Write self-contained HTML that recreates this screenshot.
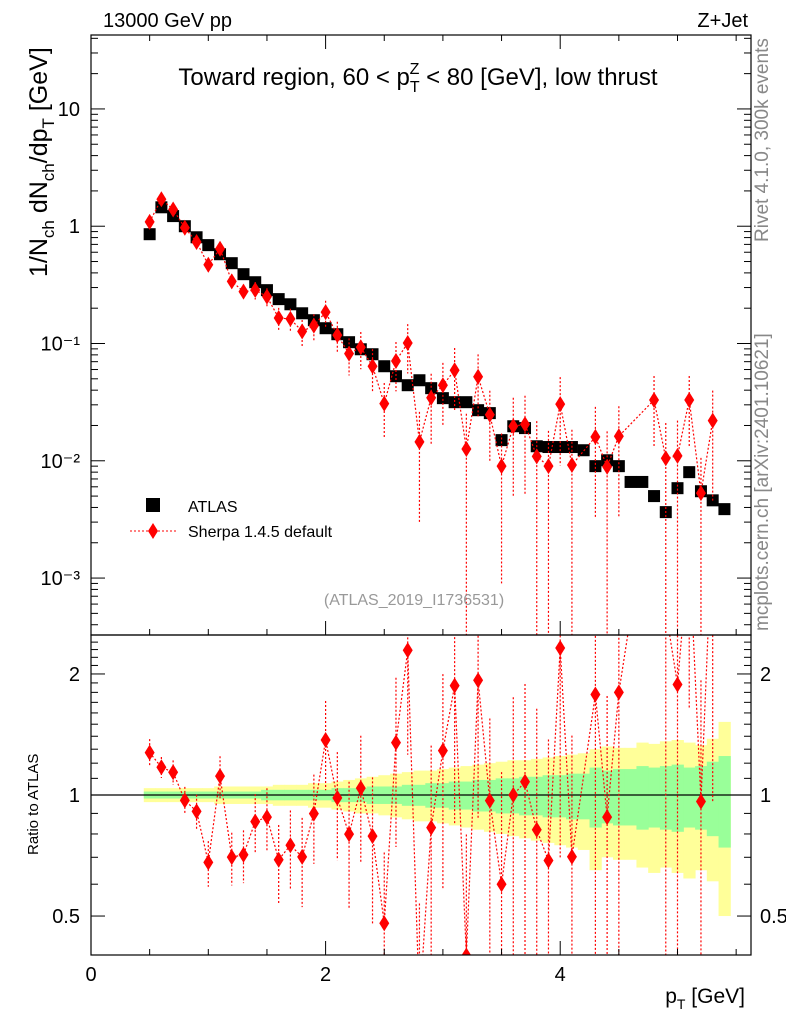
<!DOCTYPE html>
<html><head><meta charset="utf-8"><style>
html,body{margin:0;background:#fff;overflow:hidden;width:786px;height:1024px}
svg{display:block}
svg text{font-family:"Liberation Sans",sans-serif}
</style></head><body>
<svg id="c" width="786" height="1024" xmlns="http://www.w3.org/2000/svg">
<defs><clipPath id="cm"><rect x="91" y="35" width="660" height="600"/></clipPath><clipPath id="cr"><rect x="91" y="635" width="660" height="320"/></clipPath></defs>
<g id="bands" clip-path="url(#cr)"></g>
<g id="marks"></g>
<text x="103" y="27" font-size="20">13000 GeV pp</text>
<text x="748" y="27" font-size="20" text-anchor="end">Z+Jet</text>
<text x="418" y="85" font-size="24" text-anchor="middle">Toward region, 60 &lt; p<tspan font-size="16" dy="7">T</tspan><tspan font-size="16" dx="-10" dy="-18">Z</tspan><tspan dy="11"> &lt; 80 [GeV], low thrust</tspan></text>
<text x="414" y="605" font-size="16" fill="#999" text-anchor="middle">(ATLAS_2019_I1736531)</text>
<text transform="translate(768,242) rotate(-90)" font-size="19" fill="#888">Rivet 4.1.0, 300k events</text>
<text transform="translate(768,631) rotate(-90)" font-size="19" fill="#888">mcplots.cern.ch [arXiv:2401.10621]</text>
<text transform="translate(47,277) rotate(-90)" font-size="25">1/N<tspan font-size="17" dy="7">ch</tspan><tspan dy="-7"> dN</tspan><tspan font-size="17" dy="7">ch</tspan><tspan dy="-7">/dp</tspan><tspan font-size="17" dy="7">T</tspan><tspan dy="-7"> [GeV]</tspan></text>
<text transform="translate(38,855) rotate(-90)" font-size="15">Ratio to ATLAS</text>
<text x="745" y="1003" font-size="21" text-anchor="end">p<tspan font-size="14" dy="6">T</tspan><tspan dy="-6"> [GeV]</tspan></text>
<g>
<rect x="146" y="498" width="14" height="14" fill="#000"/>
<text x="188" y="512" font-size="16">ATLAS</text>
<line x1="130" y1="531" x2="176" y2="531" stroke="red" stroke-dasharray="2,2"/>
<polygon points="153,523 158,531 153,539 148,531" fill="red"/>
<text x="188" y="537" font-size="16">Sherpa 1.4.5 default</text>
</g>
</svg>
<script>
const xCenters=[0.5,0.6,0.7,0.8,0.9,1.0,1.1,1.2,1.3,1.4,1.5,1.6,1.7,1.8,1.9,2.0,2.1,2.2,2.3,2.4,2.5,2.6,2.7,2.8,2.9,3.0,3.1,3.2,3.3,3.4,3.5,3.6,3.7,3.8,3.9,4.0,4.1,4.2,4.3,4.4,4.5,4.6,4.7,4.8,4.9,5.0,5.1,5.2,5.3,5.4];
const atlas=[0.855,1.45,1.22,1.0,0.805,0.69,0.577,0.484,0.39,0.333,0.285,0.239,0.216,0.181,0.158,0.135,0.12,0.1026,0.0893,0.081,0.064,0.0526,0.0441,0.0486,0.0416,0.0342,0.0316,0.0316,0.027,0.0255,0.015,0.0197,0.019,0.0133,0.0131,0.0131,0.0131,0.0123,0.009,0.0101,0.009,0.0066,0.0066,0.005,0.00365,0.00584,0.008,0.0055,0.0046,0.00387];
const sherpa=[1.09,1.70,1.39,0.97,0.733,0.469,0.643,0.339,0.277,0.286,0.251,0.165,0.162,0.127,0.142,0.185,0.118,0.082,0.0929,0.064,0.0307,0.071,0.101,0.0145,0.0345,0.0441,0.0591,0.0126,0.0521,0.0247,0.009,0.0197,0.0205,0.0109,0.009,0.0304,0.0092,null,0.016,0.0089,0.0162,null,null,0.033,0.0105,0.011,0.033,0.0053,0.022,null];
const sherpaErr=[0.08,0.06,0.07,0.08,0.1,0.13,0.12,0.15,0.15,0.17,0.18,0.22,0.22,0.25,0.25,0.25,0.3,0.35,0.35,0.4,0.5,0.45,0.45,0.8,0.6,0.55,0.55,1.0,0.55,0.6,0.9,0.75,0.75,1.0,1.0,0.7,1.0,1.0,0.8,1.0,0.8,1,1,0.6,1.0,1.0,0.6,1.0,0.8,1];
const yelHi=[1.04,1.04,1.04,1.04,1.04,1.04,1.05,1.05,1.05,1.05,1.05,1.06,1.06,1.06,1.07,1.07,1.08,1.09,1.1,1.11,1.12,1.13,1.14,1.15,1.15,1.16,1.17,1.18,1.19,1.2,1.21,1.22,1.22,1.23,1.24,1.25,1.26,1.27,1.3,1.32,1.31,1.31,1.35,1.34,1.36,1.37,1.35,1.33,1.38,1.52];
const yelLo=[0.96,0.96,0.96,0.96,0.96,0.96,0.95,0.95,0.95,0.95,0.95,0.94,0.94,0.94,0.93,0.93,0.92,0.91,0.9,0.9,0.89,0.88,0.87,0.86,0.86,0.85,0.84,0.83,0.82,0.81,0.8,0.79,0.78,0.77,0.76,0.75,0.74,0.73,0.65,0.7,0.69,0.69,0.66,0.64,0.66,0.64,0.62,0.65,0.61,0.5];
const grnHi=[1.02,1.02,1.02,1.02,1.02,1.02,1.02,1.02,1.02,1.02,1.03,1.03,1.03,1.03,1.03,1.03,1.04,1.04,1.04,1.05,1.05,1.05,1.06,1.06,1.07,1.07,1.08,1.08,1.09,1.09,1.1,1.1,1.11,1.11,1.12,1.12,1.13,1.13,1.17,1.15,1.16,1.16,1.18,1.17,1.18,1.19,1.17,1.18,1.21,1.25];
const grnLo=[0.98,0.98,0.98,0.98,0.98,0.98,0.98,0.98,0.98,0.98,0.97,0.97,0.97,0.97,0.97,0.97,0.96,0.96,0.96,0.95,0.95,0.95,0.94,0.94,0.93,0.93,0.92,0.92,0.91,0.91,0.9,0.9,0.89,0.89,0.88,0.88,0.87,0.87,0.83,0.85,0.84,0.84,0.82,0.83,0.82,0.81,0.83,0.82,0.79,0.74];
const xTicks=[0,2,4];
const yMainTicks=[0.001,0.01,0.1,1,10];
const yMainLabels=["10⁻³","10⁻²","10⁻¹","1","10"];
const yRatioTicks=[0.5,1,2];
const yRatioLabels=["0.5","1","2"];

const NS="http://www.w3.org/2000/svg";
const X0=91,X1=751,XMAX=(751-91)/117.3;
const sx=v=>X0+v/XMAX*(X1-X0);
const MT=35,MB=635,LTOP=Math.log10(42.7),LBOT=Math.log10(3.27e-4);
const sy=v=>MT+(LTOP-Math.log10(v))/(LTOP-LBOT)*(MB-MT);
const RT=635,RB=955,RLT=Math.log10(2.5),RLB=Math.log10(0.4);
const ry=v=>RT+(RLT-Math.log10(v))/(RLT-RLB)*(RB-RT);
const svg=document.getElementById('c'),marks=document.getElementById('marks'),bands=document.getElementById('bands');
function mk(tag,at,parent){const e=document.createElementNS(NS,tag);for(const k in at)e.setAttribute(k,at[k]);(parent||marks).appendChild(e);return e;}
const hw=0.05;
xCenters.forEach((x,i)=>{
 let r=mk('rect',{x:sx(x-hw),y:ry(yelHi[i]),width:sx(x+hw)-sx(x-hw)+0.5,height:ry(yelLo[i])-ry(yelHi[i]),fill:'#ffff99'},bands);
 
 
});
xCenters.forEach((x,i)=>{
 let r=mk('rect',{x:sx(x-hw),y:ry(grnHi[i]),width:sx(x+hw)-sx(x-hw)+0.5,height:ry(grnLo[i])-ry(grnHi[i]),fill:'#99ff99'},bands);
 
 
});
let one=mk('line',{x1:X0,x2:X1,y1:ry(1),y2:ry(1),stroke:'#000','stroke-width':1.2});


const gm=mk('g',{'clip-path':'url(#cm)'});
const gr=mk('g',{'clip-path':'url(#cr)'});
xCenters.forEach((x,i)=>{
 let s=mk('rect',{x:sx(x)-6,y:sy(atlas[i])-6,width:12,height:12,fill:'#000'},gm);
 
 
});
let mp=[],rp=[];
xCenters.forEach((x,i)=>{
 const v=sherpa[i];if(v==null)return;
 mp.push([sx(x),sy(v)]);rp.push([sx(x),ry(v/atlas[i])]);
});
let l1=mk('polyline',{points:mp.map(p=>p.join(',')).join(' '),fill:'none',stroke:'red','stroke-dasharray':'2,2','stroke-width':1.2},gm);


let l2=mk('polyline',{points:rp.map(p=>p.join(',')).join(' '),fill:'none',stroke:'red','stroke-dasharray':'2,2','stroke-width':1.2},gr);


xCenters.forEach((x,i)=>{
 const v=sherpa[i];if(v==null)return;const e=sherpaErr[i];const px=sx(x);
 const lo=Math.max(v*(1-e),1e-6),hi=v*(1+e);
 [[gm,sy,1],[gr,ry,atlas[i]]].forEach(([g,f,d])=>{
  let eb=mk('line',{x1:px,x2:px,y1:f(hi/d),y2:f(lo/d),stroke:'red','stroke-dasharray':'2,2','stroke-width':1.2},g);
  
  
  const py=f(v/d);
  let dm=mk('polygon',{points:`${px},${py-8} ${px+5},${py} ${px},${py+8} ${px-5},${py}`,fill:'red'},g);
  
  
 });
});
[[MT,MB],[RT,RB]].forEach(([t,b],k)=>{
 let f=mk('rect',{x:X0,y:t,width:X1-X0,height:b-t,fill:'none',stroke:'#000','stroke-width':1.2});
 
 
});
for(let v=0;v<=5.6;v+=0.5){const px=sx(v);const big2=Math.abs(v%2)<1e-6?14:6;
 [[MB,-1],[MT,1],[RB,-1]].forEach(([y,d])=>{let t=mk('line',{x1:px,x2:px,y1:y,y2:y+d*big2,stroke:'#000'});});}
xTicks.forEach(v=>{let t=mk('text',{x:sx(v),y:981,'font-size':20,'text-anchor':'middle'});t.textContent=v;});
for(let d=-4;d<=1;d++)for(let m=1;m<=9;m++){const v=m*Math.pow(10,d);const py=sy(v);if(py<MT||py>MB)continue;const L=m==1?14:7;
 [[X0,1],[X1,-1]].forEach(([x,s])=>{let t=mk('line',{x1:x,x2:x+s*L,y1:py,y2:py,stroke:'#000'});});}
yMainTicks.forEach((v,i)=>{let t=mk('text',{x:80,y:sy(v)+7,'font-size':20,'text-anchor':'end'});t.textContent=yMainLabels[i];});
for(let v=0.4;v<=2.5001;v+=0.1){const py=ry(v);const big=[0.5,1,2].some(q=>Math.abs(q-v)<1e-6);const L=big?14:7;
 [[X0,1],[X1,-1]].forEach(([x,s])=>{let t=mk('line',{x1:x,x2:x+s*L,y1:py,y2:py,stroke:'#000'});});}
yRatioTicks.forEach((v,i)=>{[[80,'end'],[760,'start']].forEach(([x,a])=>{let t=mk('text',{x:x,y:ry(v)+7,'font-size':20,'text-anchor':a});t.textContent=yRatioLabels[i];});});
</script>
</body></html>
